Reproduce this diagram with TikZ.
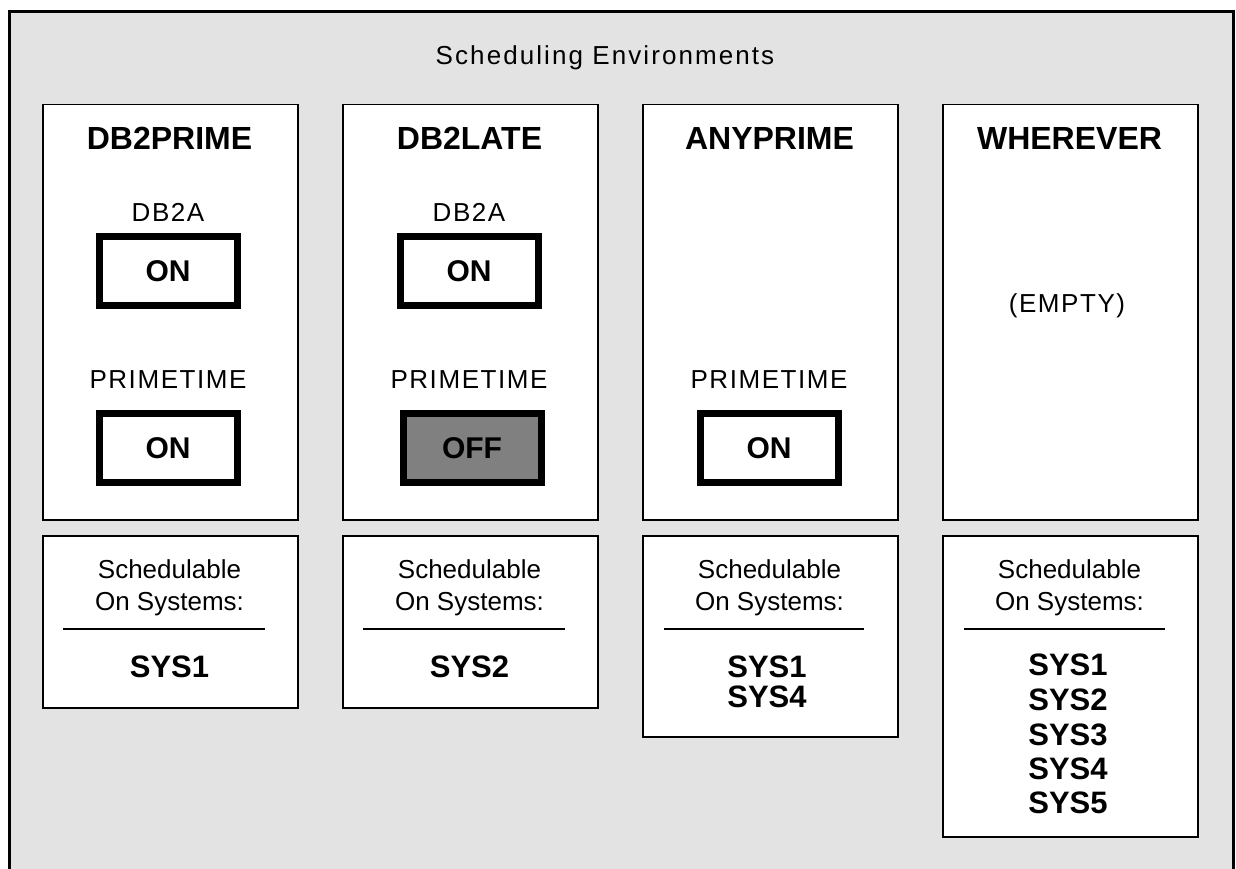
\documentclass[tikz,border=0pt]{standalone}
\usepackage{fontspec}
\setmainfont{Liberation Sans}
\newfontfamily\widefont[LetterSpace=6]{Liberation Sans}
\newfontfamily\titlefont[LetterSpace=8]{Liberation Sans}
\newlength{\du}
\setlength{\du}{1pt}
\definecolor{panelgray}{RGB}{227,227,227}
\definecolor{offgray}{RGB}{128,128,128}
\tikzset{
  envbox/.style={draw=black, line width=1.5\du, fill=white, anchor=north west, inner sep=0pt, minimum width=255\du},
  switchbox/.style={draw=black, line width=7\du, fill=white, minimum width=138\du, minimum height=69\du, inner sep=0pt, font=\bfseries\fontsize{30}{36}\selectfont},
  envtitle/.style={anchor=base, inner sep=0pt, font=\bfseries\fontsize{32}{38}\selectfont},
  thinlabel/.style={anchor=base, inner sep=0pt, font=\fontsize{26}{31}\selectfont},
  widelabel/.style={anchor=base, inner sep=0pt, font=\widefont\fontsize{26}{31}\selectfont},
  sysname/.style={anchor=base, inner sep=0pt, font=\bfseries\fontsize{31}{36}\selectfont},
}

\begin{document}
\begin{tikzpicture}
\pgftransformxscale{1.000000}
\pgftransformyscale{-1.000000}
\useasboundingbox (0\du,0\du) rectangle (1236\du,869\du);
% outer panel
\fill[panelgray] (9\du,12\du) rectangle (1233\du,869\du);
\draw[line width=3\du] (9\du,869\du)--(9\du,12\du)--(1233\du,12\du)--(1233\du,869\du);
\node[thinlabel, font=\titlefont\fontsize{26}{31}\selectfont] (paneltitle) at (605\du,65\du) {Scheduling Environments};
% environment boxes
\node[envbox, minimum height=415\du] (envA) at (42\du,104\du) {};
\node[envbox, minimum height=415\du] (envB) at (342\du,104\du) {};
\node[envbox, minimum height=415\du] (envC) at (642\du,104\du) {};
\node[envbox, minimum height=415\du] (envD) at (942\du,104\du) {};
\node[envtitle] (titleA) at (169.5\du,150\du) {DB2PRIME};
\node[envtitle] (titleB) at (469.5\du,150\du) {DB2LATE};
\node[envtitle] (titleC) at (769.5\du,150\du) {ANYPRIME};
\node[envtitle] (titleD) at (1069.5\du,150\du) {WHEREVER};
% resource states
\node[widelabel] (resA1) at (168\du,221\du) {DB2A};
\node[switchbox] (swA1) at (168\du,271\du) {ON};
\node[widelabel] (resA2) at (168\du,388\du) {PRIMETIME};
\node[switchbox] (swA2) at (168\du,448\du) {ON};
\node[widelabel] (resB1) at (469\du,221\du) {DB2A};
\node[switchbox] (swB1) at (469\du,271\du) {ON};
\node[widelabel] (resB2) at (469\du,388\du) {PRIMETIME};
\node[switchbox, fill=offgray] (swB2) at (472\du,448\du) {OFF};
\node[widelabel] (resC2) at (769\du,388\du) {PRIMETIME};
\node[switchbox] (swC2) at (769\du,448\du) {ON};
\node[widelabel] (emptyD) at (1067\du,312\du) {(EMPTY)};
% system boxes
\node[envbox, minimum height=172\du] (sysboxA) at (42\du,535\du) {};
\node[envbox, minimum height=172\du] (sysboxB) at (342\du,535\du) {};
\node[envbox, minimum height=201\du] (sysboxC) at (642\du,535\du) {};
\node[envbox, minimum height=301\du] (sysboxD) at (942\du,535\du) {};
\node[thinlabel] (schedA) at (169.5\du,578\du) {Schedulable};
\node[thinlabel] (onA) at (169.5\du,610\du) {On Systems:};
\node[thinlabel] (schedB) at (469.5\du,578\du) {Schedulable};
\node[thinlabel] (onB) at (469.5\du,610\du) {On Systems:};
\node[thinlabel] (schedC) at (769.5\du,578\du) {Schedulable};
\node[thinlabel] (onC) at (769.5\du,610\du) {On Systems:};
\node[thinlabel] (schedD) at (1069.5\du,578\du) {Schedulable};
\node[thinlabel] (onD) at (1069.5\du,610\du) {On Systems:};
\draw[line width=1.2\du] (63\du,629\du)--(265\du,629\du);
\draw[line width=1.2\du] (363\du,629\du)--(565\du,629\du);
\draw[line width=1.2\du] (664\du,629\du)--(864\du,629\du);
\draw[line width=1.2\du] (964\du,629\du)--(1165\du,629\du);
\node[sysname] (sysA1) at (169.5\du,677\du) {SYS1};
\node[sysname] (sysB1) at (469.5\du,677\du) {SYS2};
\node[sysname] (sysC1) at (767\du,677\du) {SYS1};
\node[sysname] (sysC2) at (767\du,707\du) {SYS4};
\node[sysname] (sysD1) at (1068\du,675\du) {SYS1};
\node[sysname] (sysD2) at (1068\du,710\du) {SYS2};
\node[sysname] (sysD3) at (1068\du,745\du) {SYS3};
\node[sysname] (sysD4) at (1068\du,779\du) {SYS4};
\node[sysname] (sysD5) at (1068\du,813\du) {SYS5};
\end{tikzpicture}
\end{document}
